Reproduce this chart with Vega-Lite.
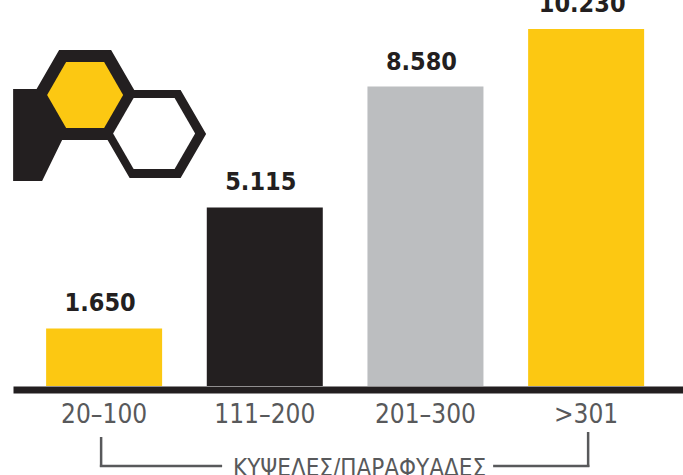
{
  "$schema": "https://vega.github.io/schema/vega-lite/v6.json",
  "width": 670,
  "height": 386,
  "autosize": {"type": "none"},
  "padding": {"left": 13, "top": 0, "right": 0, "bottom": 89},
  "background": "#ffffff",
  "config": {
    "view": {"stroke": null},
    "locale": {"number": {"decimal": ",", "thousands": ".", "grouping": [3], "currency": ["", " €"]}}
  },
  "data": {
    "values": [
      {"range": "20–100", "count": 1650},
      {"range": "111–200", "count": 5115},
      {"range": "201–300", "count": 8580},
      {"range": ">301", "count": 10230}
    ]
  },
  "layer": [
    {
      "mark": {"type": "bar"},
      "encoding": {
        "x": {
          "field": "range",
          "type": "nominal",
          "title": "ΚΥΨΕΛΕΣ/ΠΑΡΑΦΥΑΔΕΣ",
          "scale": {"domain": ["20–100", "111–200", "201–300", ">301"], "paddingInner": 0.278, "paddingOuter": 0.224, "align": 0.46},
          "axis": {
            "domain": true,
            "domainColor": "#231f20",
            "domainWidth": 7,
            "offset": 3.5,
            "ticks": false,
            "tickSize": 0,
            "grid": false,
            "labelAngle": 0,
            "labelFont": "DejaVu Sans Condensed",
            "labelFontSize": 26,
            "labelColor": "#58595b",
            "labelPadding": 11.5,
            "labelOverlap": false,
            "titleFont": "DejaVu Sans Condensed",
            "titleFontSize": 24,
            "titleFontWeight": "normal",
            "titleColor": "#58595b",
            "titleX": 346,
            "titleY": 86,
            "titleBaseline": "alphabetic",
            "titleAlign": "center"
          }
        },
        "y": {"field": "count", "type": "quantitative", "scale": {"domain": [0, 11060], "nice": false}, "axis": null},
        "color": {
          "field": "range",
          "type": "nominal",
          "scale": {"domain": ["20–100", "111–200", "201–300", ">301"], "range": ["#fcc812", "#231f20", "#bcbec0", "#fcc812"]},
          "legend": null
        }
      }
    },
    {
      "mark": {"type": "text", "font": "DejaVu Sans Condensed", "fontWeight": "bold", "fontSize": 25, "color": "#231f20", "baseline": "alphabetic", "dy": -17, "dx": -4},
      "encoding": {
        "x": {"field": "range", "type": "nominal"},
        "y": {"field": "count", "type": "quantitative"},
        "text": {"field": "count", "type": "quantitative", "format": ",d"}
      }
    },
    {
      "data": {"values": [{}]},
      "mark": {"type": "point", "filled": true, "opacity": 1, "size": 4, "strokeWidth": 0, "color": "#231f20",
        "shape": "M -71 0 L -45 -45 L 7 -45 L 33 0 L 7 45 L -45 45 Z M -91 -6 L -67 -6 L -42 45 L -62 86 L -91 86 Z M 0 39 L 25.5 -5 L 76.5 -5 L 102 39 L 76.5 83 L 25.5 83 Z"},
      "encoding": {"x": {"datum": "20–100"}, "y": {"datum": 8340}}
    },
    {
      "data": {"values": [{}]},
      "mark": {"type": "point", "filled": true, "opacity": 1, "size": 4, "strokeWidth": 0, "color": "#fcc812",
        "shape": "M -57 0 L -38 -33 L 0 -33 L 19 0 L 0 33 L -38 33 Z"},
      "encoding": {"x": {"datum": "20–100"}, "y": {"datum": 8340}}
    },
    {
      "data": {"values": [{}]},
      "mark": {"type": "point", "filled": true, "opacity": 1, "size": 4, "strokeWidth": 0, "color": "#ffffff",
        "shape": "M 9 38.5 L 29.5 3 L 70.5 3 L 91 38.5 L 70.5 74 L 29.5 74 Z"},
      "encoding": {"x": {"datum": "20–100"}, "y": {"datum": 8340}}
    },
    {
      "data": {"values": [{}]},
      "mark": {"type": "rule", "color": "#58595b", "strokeWidth": 2.5, "xOffset": -3, "yOffset": 51, "y2Offset": 81},
      "encoding": {"x": {"datum": "20–100"}, "y": {"datum": 0}, "y2": {"datum": 0}}
    },
    {
      "data": {"values": [{}]},
      "mark": {"type": "rule", "color": "#58595b", "strokeWidth": 2.5, "xOffset": -4.25, "x2Offset": 118, "yOffset": 80},
      "encoding": {"x": {"datum": "20–100"}, "x2": {"datum": "20–100"}, "y": {"datum": 0}}
    },
    {
      "data": {"values": [{}]},
      "mark": {"type": "rule", "color": "#58595b", "strokeWidth": 2.5, "xOffset": 2, "yOffset": 46, "y2Offset": 81},
      "encoding": {"x": {"datum": ">301"}, "y": {"datum": 0}, "y2": {"datum": 0}}
    },
    {
      "data": {"values": [{}]},
      "mark": {"type": "rule", "color": "#58595b", "strokeWidth": 2.5, "xOffset": -93, "x2Offset": 3.25, "yOffset": 80},
      "encoding": {"x": {"datum": ">301"}, "x2": {"datum": ">301"}, "y": {"datum": 0}}
    }
  ]
}
